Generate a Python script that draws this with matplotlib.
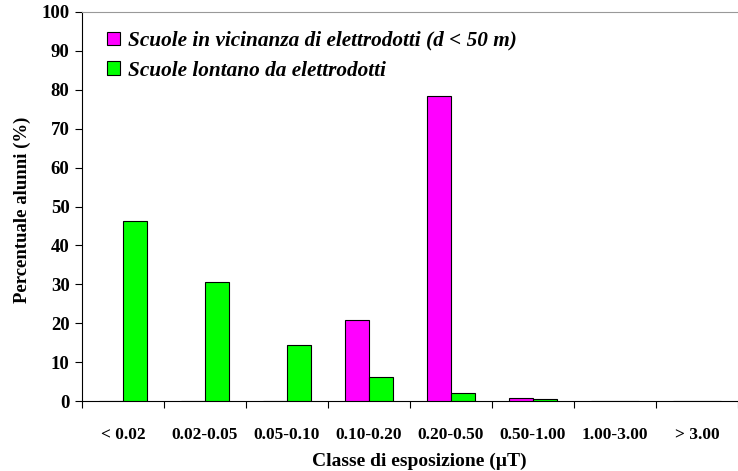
import matplotlib
matplotlib.use("Agg")
import matplotlib.pyplot as plt
import numpy as np

categories = ["< 0.02", "0.02-0.05", "0.05-0.10", "0.10-0.20", "0.20-0.50", "0.50-1.00", "1.00-3.00", "> 3.00"]
vicine = [0, 0, 0, 20.8, 78.5, 0.7, 0, 0]
lontane = [46.2, 30.5, 14.4, 6.2, 2.0, 0.45, 0, 0]
series_names = ["Scuole in vicinanza di elettrodotti (d < 50 m)", "Scuole lontano da elettrodotti"]

plt.rcParams['font.family'] = ['Liberation Serif', 'DejaVu Serif']

fig = plt.figure(figsize=(7.38, 4.71), dpi=100)
ax = fig.add_axes([82/738, 1-401/471, (738-82)/738, (401-12)/471])

x = np.arange(len(categories))
w = 0.29
ax.bar(x - w/2, vicine, w, color="#ff00ff", edgecolor="black", linewidth=0.8, label=series_names[0], zorder=3)
ax.bar(x + w/2, lontane, w, color="#00ff00", edgecolor="black", linewidth=0.8, label=series_names[1], zorder=3)

ax.set_xlim(-0.5, 7.36)
ax.set_ylim(0, 100)
ax.set_yticks(np.arange(0, 101, 10))
ax.set_xticks(x)
ax.set_xticklabels(categories, fontsize=12.5, fontweight="bold")
ax.set_xticks(np.arange(-0.5, 8, 1), minor=True)
ax.tick_params(axis="x", which="major", length=0, pad=19)
ax.tick_params(axis="x", which="minor", length=5, width=0.8, direction="out")
ax.tick_params(axis="y", length=5, width=0.8, labelsize=13.5, pad=4)
for lab in ax.get_yticklabels():
    lab.set_fontweight("bold")

ax.spines["right"].set_visible(False)
ax.spines["top"].set_color("#999999")
ax.spines["left"].set_linewidth(0.8)
ax.spines["bottom"].set_linewidth(0.8)

ax.set_xlabel("Classe di esposizione (µT)", fontsize=14, fontweight="bold")
ax.set_ylabel("Percentuale alunni (%)", fontsize=13.5, fontweight="bold")
ax.xaxis.set_label_coords((419-82)/656, (401-453)/389)
ax.yaxis.set_label_coords((31-82)/656, (401-210)/389)

leg = ax.legend(loc="upper left", bbox_to_anchor=(0.012, 0.995), frameon=False,
                prop={"style": "italic", "weight": "bold", "size": 15.3},
                handlelength=0.63, handleheight=0.63, handletextpad=0.35, labelspacing=0.45,
                borderpad=0.3)

fig.savefig("out.png", dpi=100)
